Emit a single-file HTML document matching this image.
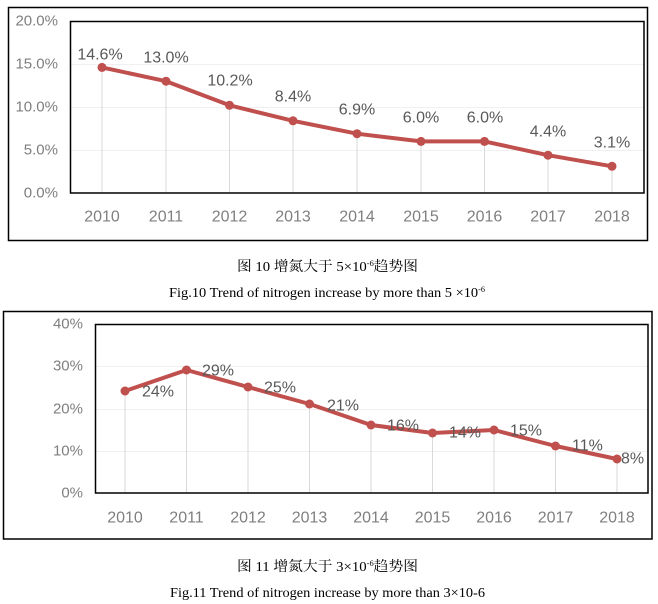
<!DOCTYPE html>
<html><head><meta charset="utf-8"><style>
html,body{margin:0;padding:0;background:#fff;}
svg{display:block;}
.ax{font-family:"Liberation Sans","DejaVu Sans",sans-serif;fill:#7f7f7f;}
.dl{font-family:"Liberation Sans","DejaVu Sans",sans-serif;fill:#595959;font-size:16px;}
.cap{font-family:"Liberation Serif","Noto Serif CJK SC",serif;fill:#000;}
</style></head><body>
<svg width="658" height="604" viewBox="0 0 658 604" xmlns="http://www.w3.org/2000/svg">
<rect width="658" height="604" fill="#fff"/>
<!-- Chart 1 -->
<rect x="8.5" y="7.5" width="639" height="233" fill="none" stroke="#000" stroke-width="1.5"/>
<g stroke="#f0f0f0" stroke-width="1">
<line x1="71" y1="64.5" x2="644" y2="64.5"/>
<line x1="71" y1="107.5" x2="644" y2="107.5"/>
<line x1="71" y1="150.5" x2="644" y2="150.5"/>
</g>
<g stroke="#d9d9d9" stroke-width="1">
<line x1="102" y1="67" x2="102" y2="193"/>
<line x1="166" y1="81" x2="166" y2="193"/>
<line x1="229.5" y1="105" x2="229.5" y2="193"/>
<line x1="293" y1="121" x2="293" y2="193"/>
<line x1="357" y1="134" x2="357" y2="193"/>
<line x1="421" y1="141" x2="421" y2="193"/>
<line x1="484.5" y1="141" x2="484.5" y2="193"/>
<line x1="548" y1="155" x2="548" y2="193"/>
<line x1="612" y1="166" x2="612" y2="193"/>
</g>
<rect x="70.5" y="21.5" width="573.5" height="171.5" fill="none" stroke="#000" stroke-width="1.5"/>
<g class="ax" font-size="15" text-anchor="end" dominant-baseline="central">
<text x="58" y="21">20.0%</text>
<text x="58" y="64">15.0%</text>
<text x="58" y="107">10.0%</text>
<text x="58" y="150">5.0%</text>
<text x="58" y="193">0.0%</text>
</g>
<g class="ax" font-size="16" text-anchor="middle" dominant-baseline="central">
<text x="102" y="217">2010</text>
<text x="166" y="217">2011</text>
<text x="229.5" y="217">2012</text>
<text x="293" y="217">2013</text>
<text x="357" y="217">2014</text>
<text x="421" y="217">2015</text>
<text x="484.5" y="217">2016</text>
<text x="548" y="217">2017</text>
<text x="612" y="217">2018</text>
</g>
<polyline points="102,67.4 166,81.2 229.5,105.3 293,120.8 357,133.7 421,141.4 484.5,141.4 548,155.2 612,166.3" fill="none" stroke="#c0504d" stroke-width="4" stroke-linejoin="round"/>
<g fill="#c0504d">
<circle cx="102" cy="67.4" r="4.5"/><circle cx="166" cy="81.2" r="4.5"/><circle cx="229.5" cy="105.3" r="4.5"/>
<circle cx="293" cy="120.8" r="4.5"/><circle cx="357" cy="133.7" r="4.5"/><circle cx="421" cy="141.4" r="4.5"/>
<circle cx="484.5" cy="141.4" r="4.5"/><circle cx="548" cy="155.2" r="4.5"/><circle cx="612" cy="166.3" r="4.5"/>
</g>
<g class="dl" text-anchor="middle" dominant-baseline="central">
<text x="100" y="55">14.6%</text>
<text x="166" y="58">13.0%</text>
<text x="230" y="81">10.2%</text>
<text x="293" y="97">8.4%</text>
<text x="357" y="110">6.9%</text>
<text x="421" y="118">6.0%</text>
<text x="485" y="118">6.0%</text>
<text x="548" y="132">4.4%</text>
<text x="612" y="143">3.1%</text>
</g>
<!-- Caption 1 -->
<text class="cap" x="237" y="271" font-size="14" textLength="181" lengthAdjust="spacingAndGlyphs">图 10 增氮大于 5×10<tspan font-size="8" dy="-5">-6</tspan><tspan dy="5">趋势图</tspan></text>
<text class="cap" x="169" y="297" font-size="14" textLength="316" lengthAdjust="spacingAndGlyphs">Fig.10 Trend of nitrogen increase by more than 5 ×10<tspan font-size="8" dy="-5">-6</tspan></text>
<!-- Chart 2 -->
<rect x="3.5" y="311.5" width="648.5" height="227.5" fill="none" stroke="#000" stroke-width="1.5"/>
<g stroke="#f0f0f0" stroke-width="1">
<line x1="96" y1="366.5" x2="648" y2="366.5"/>
<line x1="96" y1="409.5" x2="648" y2="409.5"/>
<line x1="96" y1="451.5" x2="648" y2="451.5"/>
</g>
<g stroke="#d9d9d9" stroke-width="1">
<line x1="125" y1="391" x2="125" y2="493"/>
<line x1="186.5" y1="370" x2="186.5" y2="493"/>
<line x1="248" y1="387" x2="248" y2="493"/>
<line x1="309.5" y1="404" x2="309.5" y2="493"/>
<line x1="371" y1="425" x2="371" y2="493"/>
<line x1="432.5" y1="433" x2="432.5" y2="493"/>
<line x1="494" y1="430" x2="494" y2="493"/>
<line x1="555.5" y1="446" x2="555.5" y2="493"/>
<line x1="617" y1="459" x2="617" y2="493"/>
</g>
<rect x="95.5" y="324.5" width="552.5" height="168.5" fill="none" stroke="#000" stroke-width="1.5"/>
<g class="ax" font-size="15" text-anchor="end" dominant-baseline="central">
<text x="83" y="324">40%</text>
<text x="83" y="366">30%</text>
<text x="83" y="409">20%</text>
<text x="83" y="451">10%</text>
<text x="83" y="493">0%</text>
</g>
<g class="ax" font-size="16" text-anchor="middle" dominant-baseline="central">
<text x="125" y="518">2010</text>
<text x="186.5" y="518">2011</text>
<text x="248" y="518">2012</text>
<text x="309.5" y="518">2013</text>
<text x="371" y="518">2014</text>
<text x="432.5" y="518">2015</text>
<text x="494" y="518">2016</text>
<text x="555.5" y="518">2017</text>
<text x="617" y="518">2018</text>
</g>
<polyline points="125,391 186.5,370 248,387 309.5,404 371,425 432.5,433 494,430 555.5,446 617,459" fill="none" stroke="#c0504d" stroke-width="4" stroke-linejoin="round"/>
<g fill="#c0504d">
<circle cx="125" cy="391" r="4.5"/><circle cx="186.5" cy="370" r="4.5"/><circle cx="248" cy="387" r="4.5"/>
<circle cx="309.5" cy="404" r="4.5"/><circle cx="371" cy="425" r="4.5"/><circle cx="432.5" cy="433" r="4.5"/>
<circle cx="494" cy="430" r="4.5"/><circle cx="555.5" cy="446" r="4.5"/><circle cx="617" cy="459" r="4.5"/>
</g>
<g class="dl" dominant-baseline="central">
<text x="142" y="392">24%</text>
<text x="202" y="371">29%</text>
<text x="264" y="388">25%</text>
<text x="327" y="406">21%</text>
<text x="387" y="426">16%</text>
<text x="449" y="433">14%</text>
<text x="510" y="431">15%</text>
<text x="572" y="446">11%</text>
<text x="621" y="459">8%</text>
</g>
<!-- Caption 2 -->
<text class="cap" x="237" y="571" font-size="14" textLength="181" lengthAdjust="spacingAndGlyphs">图 11 增氮大于 3×10<tspan font-size="8" dy="-5">-6</tspan><tspan dy="5">趋势图</tspan></text>
<text class="cap" x="170" y="597" font-size="14" textLength="315" lengthAdjust="spacingAndGlyphs">Fig.11 Trend of nitrogen increase by more than 3×10-6</text>
</svg>
</body></html>
